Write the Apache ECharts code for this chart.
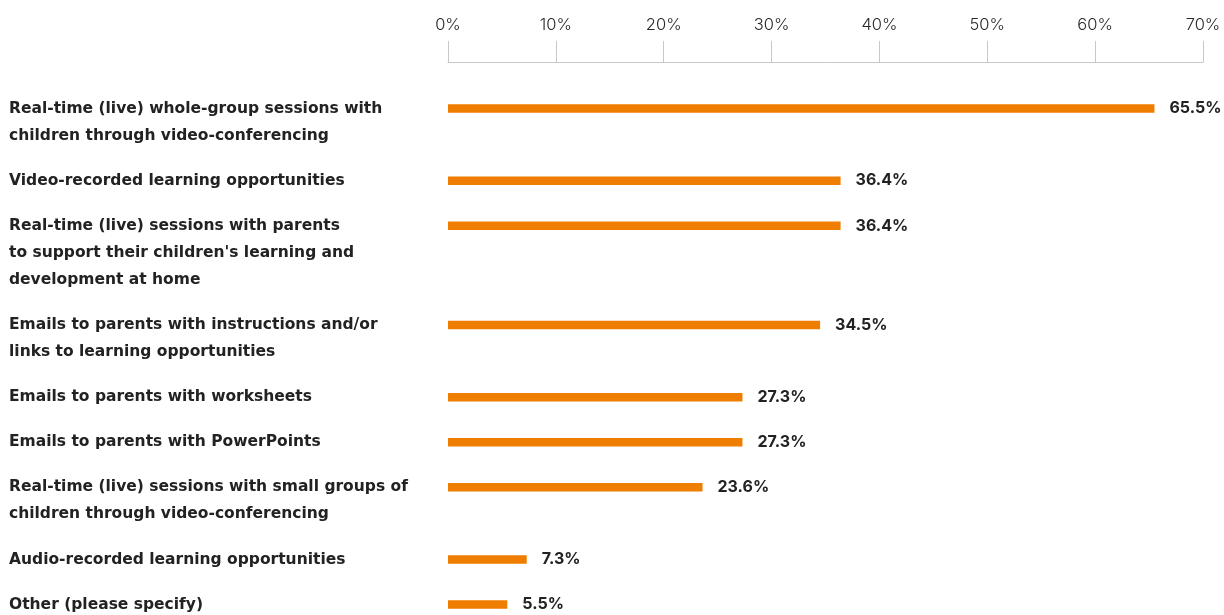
<!DOCTYPE html>
<html>
<head>
<meta charset="utf-8">
<script src="https://cdn.jsdelivr.net/npm/echarts@6/dist/echarts.min.js"></script>
<style>html,body{margin:0;padding:0;background:#fff;}#c{width:1224px;height:615px;}</style>
</head>
<body>
<div id="c"></div>
<script>
const categories = [
  "Real-time (live) whole-group sessions with\nchildren through video-conferencing",
  "Video-recorded learning opportunities",
  "Real-time (live) sessions with parents\nto support their children's learning and\ndevelopment at home",
  "Emails to parents with instructions and/or\nlinks to learning opportunities",
  "Emails to parents with worksheets",
  "Emails to parents with PowerPoints",
  "Real-time (live) sessions with small groups of\nchildren through video-conferencing",
  "Audio-recorded learning opportunities",
  "Other (please specify)"
];
const values = [65.5, 36.4, 36.4, 34.5, 27.3, 27.3, 23.6, 7.3, 5.5];
const xTicks = [0, 10, 20, 30, 40, 50, 60, 70];

// Build evenly-sized row slots: each label line takes 3 slots, gap between groups 2 slots
const axisData = [];
const barData = [];
categories.forEach((c, i) => {
  const n = c.split('\n').length;
  axisData.push(c);
  barData.push(values[i]);
  if (i < categories.length - 1) {
    for (let k = 0; k < 3 * n + 1; k++) { axisData.push(''); barData.push(null); }
  }
});
const slot = 9.02;

const chart = echarts.init(document.getElementById('c'), null, {renderer: 'canvas'});
chart.setOption({
  animation: false,
  grid: { left: 448, right: 21, top: 104, height: axisData.length * slot, containLabel: false, outerBoundsMode: 'none' },
  xAxis: {
    type: 'value', position: 'top', offset: 42,
    min: xTicks[0], max: xTicks[xTicks.length - 1], interval: 10,
    axisLine: { show: true, lineStyle: { color: '#c8c8c8', width: 1 } },
    axisTick: { show: true, inside: false, length: 21, lineStyle: { color: '#c8c8c8', width: 1 } },
    splitLine: { show: false },
    axisLabel: { formatter: '{value}%', color: '#2a2a2a', fontSize: 16.5, fontFamily: 'Inter', fontWeight: 300, margin: 28 }
  },
  yAxis: {
    type: 'category', inverse: true, data: axisData,
    axisLine: { show: false }, axisTick: { show: false }, splitLine: { show: false },
    axisLabel: {
      interval: 0, align: 'left', margin: 439,
      fontFamily: 'DejaVu Sans', fontWeight: 'bold', fontSize: 15.5, color: '#222', lineHeight: 27,
      formatter: function (v) {
        if (!v) return '';
        const n = v.split('\n').length;
        return '\n'.repeat(n - 1) + v;
      }
    }
  },
  series: [{
    type: 'bar', data: barData, barWidth: 8.5,
    itemStyle: { color: '#EF7D00' },
    label: {
      show: true, position: 'right', distance: 15,
      fontFamily: 'Inter', fontWeight: 'bold', fontSize: 16, color: '#222',
      formatter: function (p) { return p.value == null ? '' : p.value.toFixed(1) + '%'; }
    }
  }]
});
</script>
</body>
</html>
